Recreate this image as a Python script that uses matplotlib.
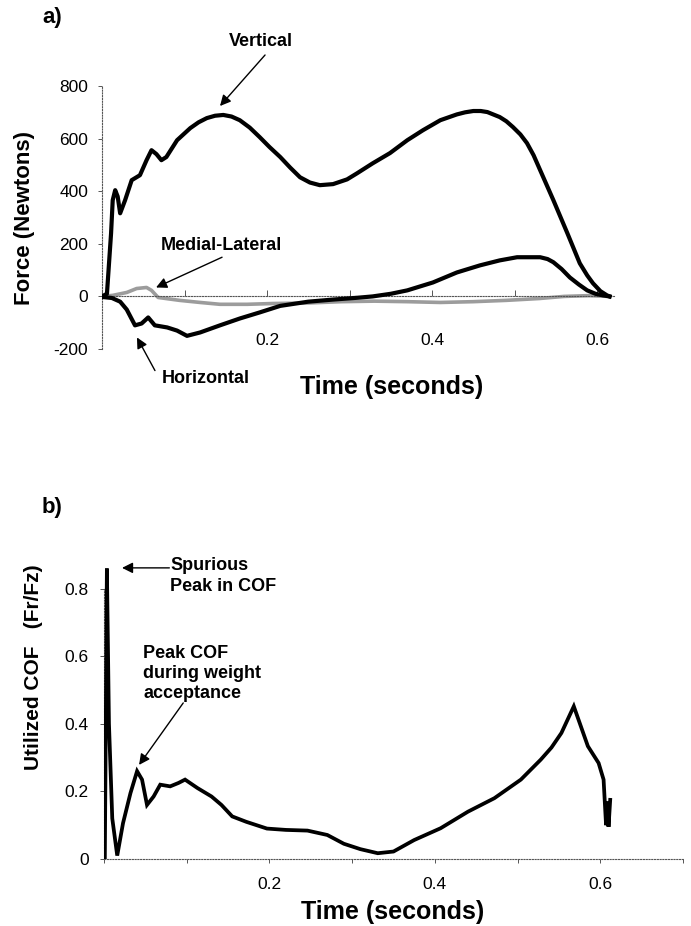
import matplotlib
matplotlib.use("Agg")
import matplotlib.pyplot as plt
import numpy as np

plt.rcParams['font.family'] = ['Liberation Sans', 'DejaVu Sans']

# ---------------- data: panel a (force, N) ----------------
vert_t = [0.0, 0.006, 0.011, 0.013, 0.016, 0.019, 0.022, 0.028, 0.036, 0.046, 0.054, 0.060, 0.066,
          0.072, 0.078, 0.091, 0.107, 0.117, 0.127, 0.137, 0.147, 0.157, 0.167, 0.179, 0.191,
          0.203, 0.216, 0.228, 0.240, 0.252, 0.264, 0.280,
          0.297, 0.309, 0.328, 0.349, 0.370, 0.389, 0.410, 0.430, 0.440, 0.450, 0.459, 0.467,
          0.482, 0.490, 0.498, 0.507,
          0.515, 0.523, 0.531, 0.547, 0.564, 0.579, 0.588, 0.595, 0.604, 0.612, 0.615]
vert_v = [0, 10, 240, 366, 404, 380, 316, 366, 442, 461, 518, 556, 541,
          518, 530, 594, 640, 662, 678, 687, 690, 684, 670, 642, 606,
          568, 530, 490, 453, 433, 423, 427,
          445, 468, 506, 545, 594, 632, 670, 692, 700, 705, 705, 701,
          682, 666, 644, 616,
          583, 537, 480, 366, 240, 126, 80, 50, 20, 4, 0]

horiz_t = [0.0, 0.012, 0.022, 0.030, 0.040, 0.048, 0.056, 0.064, 0.079, 0.091, 0.103, 0.119, 0.143,
           0.167, 0.191, 0.216, 0.250, 0.280, 0.310, 0.328, 0.350, 0.370, 0.401, 0.430, 0.458, 0.482,
           0.503, 0.531, 0.540, 0.547, 0.557, 0.567, 0.578, 0.588, 0.598, 0.607, 0.615]
horiz_v = [-2, -6, -20, -50, -110, -103, -80, -110, -118, -130, -150, -137, -110,
           -84, -61, -36, -20, -12, -5, 0, 10, 23, 53, 91, 118, 137,
           149, 149, 142, 130, 104, 72, 45, 23, 10, 4, 0]

ml_t = [0.0, 0.013, 0.030, 0.042, 0.054, 0.060, 0.068, 0.094, 0.119, 0.143, 0.176, 0.207,
        0.250, 0.290, 0.330, 0.370, 0.410, 0.450, 0.490, 0.530, 0.560, 0.590, 0.615]
ml_v = [0, 4, 15, 30, 34, 23, -4, -15, -23, -30, -30, -27,
        -25, -20, -18, -20, -23, -20, -15, -8, 0, 3, 0]

# ---------------- data: panel b (utilized COF) ----------------
cof_t = [0.0, 0.001, 0.0035, 0.006, 0.010, 0.016, 0.023, 0.032, 0.040, 0.046, 0.052, 0.060,
         0.068, 0.080, 0.090, 0.098, 0.113, 0.130, 0.142, 0.155, 0.172, 0.197, 0.220, 0.246, 0.270,
         0.290, 0.310, 0.331, 0.350, 0.375, 0.407, 0.440, 0.472, 0.504, 0.528, 0.541, 0.553, 0.568,
         0.585, 0.598, 0.604, 0.607, 0.609, 0.610, 0.612]
cof_v = [0.0, 0.0, 0.86, 0.40, 0.12, 0.01, 0.106, 0.195, 0.26, 0.235, 0.16, 0.185,
         0.22, 0.215, 0.225, 0.235, 0.21, 0.185, 0.16, 0.126, 0.11, 0.09, 0.086, 0.084, 0.071,
         0.045, 0.029, 0.017, 0.022, 0.056, 0.091, 0.14, 0.18, 0.235, 0.294, 0.33, 0.373, 0.452,
         0.334, 0.284, 0.235, 0.10, 0.17, 0.095, 0.175]

x_ticks = [0.0, 0.1, 0.2, 0.3, 0.4, 0.5, 0.6]
x_ticks_b = [0.0, 0.1, 0.2, 0.3, 0.4, 0.5, 0.6, 0.7]
force_ticks = [-200, 0, 200, 400, 600, 800]
cof_ticks = [0, 0.2, 0.4, 0.6, 0.8]


def xlab(v):
    return f"{v:.1f}" if round(v * 10) % 2 == 0 and v > 0 else ""


fig = plt.figure(figsize=(6.91, 9.26), dpi=100)

axis_col = '#555555'

# ================= panel a =================
ax1 = fig.add_axes([0.1476, 0.6231, 0.7404, 0.2840])
ax1.plot(ml_t, ml_v, color='#9c9c9c', lw=2.6, solid_capstyle='round', zorder=2)
ax1.plot(horiz_t, horiz_v, color='black', lw=3.0, solid_joinstyle='round', zorder=3)
ax1.plot(vert_t, vert_v, color='black', lw=3.0, solid_joinstyle='round', zorder=3)
ax1.set_xlim(0, 0.62)
ax1.set_ylim(-200, 800)
for s in ['top', 'right']:
    ax1.spines[s].set_visible(False)
ax1.spines['bottom'].set_position(('data', 0))
for s in ['bottom', 'left']:
    ax1.spines[s].set_linestyle((0, (1, 1.5)))
    ax1.spines[s].set_color(axis_col)
    ax1.spines[s].set_linewidth(0.8)
ax1.set_xticks(x_ticks)
ax1.set_xticklabels([xlab(v) for v in x_ticks])
ax1.set_yticks(force_ticks)
ax1.set_yticklabels([str(v) for v in force_ticks])
ax1.tick_params(axis='x', direction='in', length=4, width=0.7, color=axis_col,
                pad=26, labelsize=12.5)
ax1.tick_params(axis='y', direction='out', length=3, width=0.7, color=axis_col,
                pad=7, labelsize=12.5)
ax1.set_ylabel('Force (Newtons)', fontsize=16, fontweight='bold')
ax1.yaxis.set_label_coords(-0.131, 0.5)
fig.text(392 / 691, 1 - 387 / 926, 'Time (seconds)', fontsize=18, fontweight='bold',
         ha='center', va='center')

arrow_kw = dict(arrowstyle='-|>', lw=1.0, color='black', mutation_scale=16,
                shrinkA=0, shrinkB=0)
ax1.annotate('', xy=(0.143, 724), xytext=(0.1976, 918), arrowprops=arrow_kw,
             annotation_clip=False)
ax1.text(0.193, 968, 'Vertical', fontsize=13, fontweight='bold', ha='center',
         va='center', clip_on=False)
ax1.annotate('', xy=(0.0655, 34), xytext=(0.1455, 149), arrowprops=arrow_kw)
ax1.text(0.1442, 194, 'Medial-Lateral', fontsize=13, fontweight='bold', ha='center',
         va='center')
ax1.annotate('', xy=(0.0424, -156), xytext=(0.0642, -282), arrowprops=arrow_kw,
             annotation_clip=False)
ax1.text(0.126, -312, 'Horizontal', fontsize=13, fontweight='bold', ha='center',
         va='center', clip_on=False)

fig.text(52 / 691, 1 - 18 / 926, 'a)', fontsize=16, fontweight='bold',
         ha='center', va='center')

# ================= panel b =================
ax2 = fig.add_axes([0.1505, 0.0724, 0.8379, 0.3282])
ax2.plot(cof_t, cof_v, color='black', lw=2.7, solid_joinstyle='miter', zorder=3)
ax2.set_xlim(0, 0.7)
ax2.set_ylim(0, 0.9)
for s in ['top', 'right']:
    ax2.spines[s].set_visible(False)
for s in ['bottom', 'left']:
    ax2.spines[s].set_linestyle((0, (1, 1.5)))
    ax2.spines[s].set_color(axis_col)
    ax2.spines[s].set_linewidth(0.8)
ax2.spines['left'].set_bounds(0, 0.8)
ax2.set_xticks(x_ticks_b)
ax2.set_xticklabels([xlab(v) for v in x_ticks_b])
ax2.set_yticks(cof_ticks)
ax2.set_yticklabels(['0' if v == 0 else f"{v:.1f}" for v in cof_ticks])
ax2.tick_params(axis='x', direction='out', length=3, width=0.7, color=axis_col,
                pad=10, labelsize=12.5)
ax2.tick_params(axis='y', direction='out', length=3, width=0.7, color=axis_col,
                pad=8, labelsize=12.5)
ax2.set_ylabel('Utilized COF   (Fr/Fz)', fontsize=15, fontweight='bold')
ax2.yaxis.set_label_coords(-0.105, 0.63)
fig.text(393 / 691, 1 - 912 / 926, 'Time (seconds)', fontsize=18, fontweight='bold',
         ha='center', va='center')

ax2.annotate('', xy=(0.0218, 0.862), xytext=(0.079, 0.862), arrowprops=arrow_kw)
ax2.text(0.080, 0.8385, 'Spurious\nPeak in COF', fontsize=13, fontweight='bold',
         ha='left', va='center', linespacing=1.3)
ax2.annotate('', xy=(0.0424, 0.2785), xytext=(0.0958, 0.462), arrowprops=arrow_kw)
ax2.text(0.0473, 0.5496, 'Peak COF\nduring weight\nacceptance', fontsize=13,
         fontweight='bold', ha='left', va='center', linespacing=1.25)

fig.text(52 / 691, 1 - 508 / 926, 'b)', fontsize=16, fontweight='bold',
         ha='center', va='center')

fig.savefig('out.png', dpi=100)
